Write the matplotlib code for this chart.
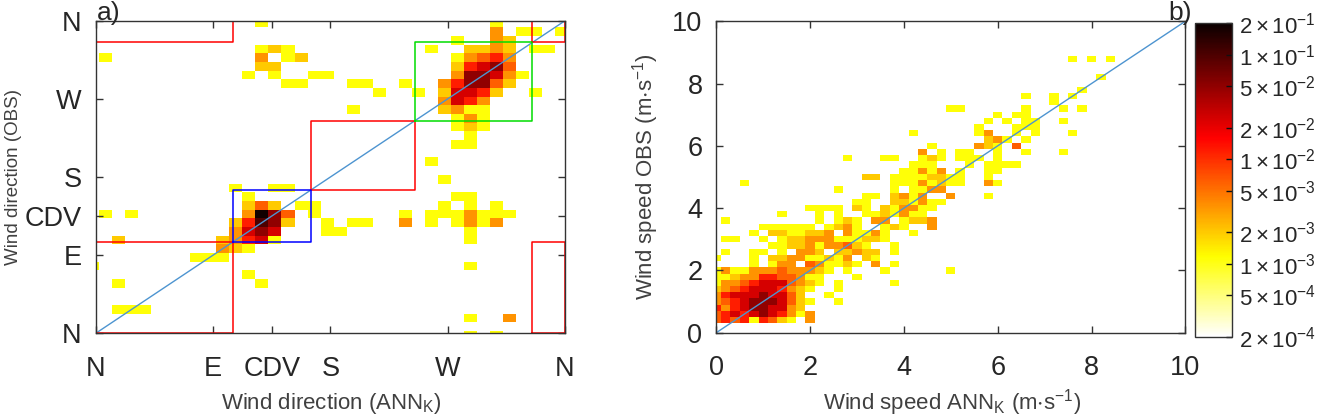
import re
import numpy as np
import matplotlib
matplotlib.use("Agg")
import matplotlib.pyplot as plt
from matplotlib.colors import LogNorm

plt.rcParams['font.family'] = ['Liberation Sans', 'DejaVu Sans']
plt.rcParams['mathtext.fontset'] = 'custom'
plt.rcParams['mathtext.rm'] = 'Liberation Sans'
plt.rcParams['mathtext.it'] = 'Liberation Sans:italic'
plt.rcParams['mathtext.bf'] = 'Liberation Sans:bold'

# ---------------- data ----------------
# frequency level codes read from the colours of the cells
level_value = {'Y': 1.1e-3, 'a': 2e-3, 'o': 3.5e-3, 'O': 6e-3, 'r': 1.2e-2,
               'R': 2.5e-2, 'd': 5e-2, 'k': 1e-1, 'K': 1.8e-1}

# panel a): 10 deg bins (edges at 2.5 + 10 n); key = OBS bin, tokens = "ANNbin level"
dir_bin_edges = [0.0] + list(np.arange(2.5, 360, 10.0)) + [360.0]
dir_rows = {
    35: "12Y 30Y",
    34: "30o 32Y 33Y 35Y",
    33: "27Y 30o 31a",
    32: "12Y 13a 14Y 25Y 28a 29a 30o 31a 33Y 34Y",
    31: "0Y 12o 14Y 15a 27Y 28o 29O 30r 31o",
    30: "12a 13a 27a 28r 29R 30d 31O",
    29: "11Y 13Y 16Y 17Y 27o 28d 29d 30R 31o 32Y",
    28: "14Y 15Y 19Y 20Y 23Y 26o 27r 28d 29d 30O 31a",
    27: "21Y 24Y 26a 27R 28R 29r 30a 33Y",
    26: "26o 27R 28r 29o",
    25: "19Y 26a 27o 28Y 29Y",
    24: "27Y 28o 29Y",
    23: "27Y 28a 29Y",
    22: "28Y",
    21: "27Y 28Y",
    19: "25Y",
    17: "26Y",
    16: "10Y 13Y 14Y",
    15: "11Y 27Y 28Y",
    14: "11a 12O 13a 15Y 16Y 26Y 28Y 30Y",
    13: "0Y 2Y 11o 12K 13d 14O 16Y 23Y 25Y 26Y 27Y 28o 29Y 30Y 31Y",
    12: "10a 11r 12k 13d 14a 17Y 19Y 20Y 23o 25Y 27Y 28o 29Y 30o",
    11: "10o 11R 12d 13R 17Y 18Y 28Y",
    10: "1a 9a 10o 11r 12R 13Y 28Y",
    9: "9o 10a 11Y",
    8: "7Y 8Y 9Y",
    7: "-1Y 28Y",
    6: "11Y",
    5: "1Y 12Y",
    2: "1Y 2Y 3Y",
    1: "28Y 31o",
    -1: "28Y 30Y",
}
dir_ticks = [0, 90, 135, 180, 270, 360]
dir_ticklabels = ['N', 'E', 'CDV', 'S', 'W', 'N']
# sector boxes: (x0, x1, y0, y1, colour)
sector_boxes = [
    (0, 105, 0, 105, 'red'), (0, 105, 335, 360, 'red'),
    (335, 360, 0, 105, 'red'), (335, 360, 335, 360, 'red'),
    (165, 245, 165, 245, 'red'),
    (105, 165, 105, 165, 'blue'),
    (245, 335, 245, 335, '#00dd00'),
]

# panel b): 0.2 m/s bins centred on multiples of 0.2; key = OBS bin, tokens = "ANNbin level"
spd_bin_edges = [0.0] + list(np.arange(0.1, 10.0, 0.2)) + [10.0]
speed_rows = {
    2: "0O 1r 2O 3r 4Y 5r 6O 7a 8Y 10o",
    3: "0O 1r 2R 3r 4R 5d 6R 7r 8o 9Y 10o",
    4: "0r 1o 2r 3R 4d 5d 6R 7R 8o 9a",
    5: "0o 1O 2r 3R 4d 5d 6d 7R 8O 9a 10Y 13Y",
    6: "0o 1r 2R 3R 4R 5d 6R 7R 8O 9a 12Y",
    7: "0a 1o 2O 3r 4R 5R 6R 7r 8o 9a 10Y 13Y",
    8: "0Y 1o 2o 3O 4r 5R 6R 7R 8O 9o 10a 11Y 13Y 19Y",
    9: "0Y 1Y 2a 3o 4o 5r 6r 7O 8O 9o 10Y 11Y 15Y",
    10: "0Y 1o 2Y 3Y 4o 5o 6o 7O 8o 9o 10o 11a 12Y 14Y 18Y 25Y",
    11: "4Y 6Y 7o 8o 10O 11o 12Y 13Y 14a 15Y 17o 19Y",
    12: "0Y 4Y 6a 7a 8o 9o 10Y 11Y 12a 13Y 14o 16a 17Y",
    13: "1Y 4Y 5Y 7Y 9o 10o 11a 13a 14a 15o 16a 17a 19Y",
    14: "6Y 7Y 8a 9a 10o 11Y 12o 13o 14O 15a 16Y 19Y",
    15: "1Y 2Y 5Y 7Y 8a 9a 10o 11o 12o 13Y 14Y 15Y 16a 17a 18Y",
    16: "4Y 6a 7a 8Y 9Y 10a 11a 12o 14o 15Y 16Y 17o 18Y 21Y",
    17: "5Y 6Y 7Y 8Y 9Y 10Y 12Y 13a 14o 15Y 18Y 19a 20Y 23o",
    18: "1Y 11Y 13Y 14a 15Y 17o 18o 20Y 21a 22a 23o",
    19: "7Y 11Y 13Y 16Y 17Y 18a 19Y 20o 21Y 22Y",
    20: "10Y 11Y 12Y 13Y 15a 16Y 18a 19Y 20o 21o 22Y 23Y",
    21: "15Y 16Y 19a 20a 21Y 22o 23Y 24Y",
    22: "16Y 17Y 19a 20o 21Y 22o 25o 29Y",
    23: "13Y 19Y 21Y 22Y 23o 24o",
    24: "3Y 19Y 20Y 21Y 22o 23Y 24a 25Y 26Y 29o 30Y",
    25: "16a 17a 19Y 20Y 21Y 22Y 23a 24a 25Y 26Y 29Y",
    26: "20Y 21Y 22o 23Y 24o 26Y 29Y 30Y",
    27: "21Y 22Y 23Y 27Y 29Y 30Y 31Y 32Y",
    28: "14Y 18Y 19Y 22Y 23a 24Y 26Y 27Y 28Y 30Y",
    29: "22o 24Y 26Y 27Y 30Y 33Y 37Y",
    30: "23Y 28o 29a 30Y 32O",
    31: "29a 30o 31Y 33Y",
    32: "21Y 28Y 29o 32Y 34Y 38Y",
    33: "28Y 32Y 33Y 34Y",
    34: "29Y 31Y 33Y 34Y 37Y",
    35: "30Y 32Y 33Y",
    36: "25Y 26Y 33Y 37Y 39Y",
    37: "36Y",
    38: "33Y 36Y 38Y",
    39: "39Y",
    41: "41Y",
    44: "38Y 40Y 42Y",
}
speed_ticks = [0, 2, 4, 6, 8, 10]

cbar_ticks = [2e-1, 1e-1, 5e-2, 2e-2, 1e-2, 5e-3, 2e-3, 1e-3, 5e-4, 2e-4]
cbar_ticklabels = [r'$\mathregular{2\times10^{-1}}$', r'$\mathregular{1\times10^{-1}}$',
                   r'$\mathregular{5\times10^{-2}}$', r'$\mathregular{2\times10^{-2}}$',
                   r'$\mathregular{1\times10^{-2}}$', r'$\mathregular{5\times10^{-3}}$',
                   r'$\mathregular{2\times10^{-3}}$', r'$\mathregular{1\times10^{-3}}$',
                   r'$\mathregular{5\times10^{-4}}$', r'$\mathregular{2\times10^{-4}}$']


def build_grid(rows, n, offset):
    g = np.zeros((n, n))
    for r, s in rows.items():
        for c, code in re.findall(r'(-?\d+)([A-Za-z])', s):
            g[r + offset, int(c) + offset] = level_value[code]
    return np.ma.masked_equal(g, 0)


dir_grid = build_grid(dir_rows, len(dir_bin_edges) - 1, 1)
spd_grid = build_grid(speed_rows, len(spd_bin_edges) - 1, 0)

# ---------------- plot ----------------
cmap = plt.get_cmap('hot_r').copy()
cmap.set_bad('white')
norm = LogNorm(vmin=2e-4, vmax=2e-1)
txt = '#262626'
lab = '#404040'
diag_c = '#4d94d0'

fig = plt.figure(figsize=(13.26, 4.17), dpi=100)
ax1 = fig.add_axes([0.0722, 0.2007, 0.3539, 0.7496])
ax2 = fig.add_axes([0.5402, 0.2022, 0.3537, 0.7468])
cax = fig.add_axes([0.9012, 0.1926, 0.0279, 0.7516])

ax1.pcolormesh(dir_bin_edges, dir_bin_edges, dir_grid, cmap=cmap, norm=norm)
ax1.plot([0, 360], [0, 360], color=diag_c, lw=1.0)
for x0, x1, y0, y1, c in sector_boxes:
    ax1.plot([x0, x1, x1, x0, x0], [y0, y0, y1, y1, y0], color=c, lw=1.1)
ax1.set_xlim(0, 360)
ax1.set_ylim(0, 360)
ax1.set_xticks(dir_ticks)
ax1.set_xticklabels(dir_ticklabels)
ax1.set_yticks(dir_ticks)
ax1.set_yticklabels(dir_ticklabels)
ax1.set_xlabel(r'Wind direction (ANN$_\mathregular{K}$)', fontsize=16, color=lab)
ax1.set_ylabel('Wind direction (OBS)', fontsize=13.5, color=lab)
ax1.xaxis.set_label_coords(0.503, -0.185)
ax1.yaxis.set_label_coords(-0.158, 0.5)

mesh = ax2.pcolormesh(spd_bin_edges, spd_bin_edges, spd_grid, cmap=cmap, norm=norm)
ax2.plot([0, 10], [0, 10], color=diag_c, lw=1.0)
ax2.set_xlim(0, 10)
ax2.set_ylim(0, 10)
ax2.set_xticks(speed_ticks)
ax2.set_yticks(speed_ticks)
ax2.set_xlabel(r'Wind speed ANN$_\mathregular{K}$ (m$\mathregular{\cdot}$s$^\mathregular{-1}$)',
               fontsize=16, color=lab)
ax2.set_ylabel(r'Wind speed OBS (m$\mathregular{\cdot}$s$^\mathregular{-1}$)',
               fontsize=16, color=lab)
ax2.xaxis.set_label_coords(0.503, -0.176)
ax2.yaxis.set_label_coords(-0.118, 0.5)

for ax in (ax1, ax2):
    ax.tick_params(direction='in', top=True, right=True, length=5, width=1.0,
                   labelsize=19.5, color='#333333', labelcolor=txt)
    ax.tick_params(axis='x', pad=16)
    ax.tick_params(axis='y', pad=10)
    for sp in ax.spines.values():
        sp.set_color('#333333')
        sp.set_linewidth(1.0)

cb = fig.colorbar(mesh, cax=cax, ticks=cbar_ticks)
cb.minorticks_off()
cb.set_ticks(cbar_ticks)
cb.set_ticklabels(cbar_ticklabels)
cb.ax.tick_params(direction='in', length=4, width=1.0, labelsize=16, pad=5,
                  color='#111111', labelcolor=txt)
cb.outline.set_edgecolor('#333333')
cb.outline.set_linewidth(1.0)

fig.text(97 / 1326, 1 - 20 / 417, 'a)', fontsize=19, color=txt, va='baseline', ha='left')
fig.text(1168 / 1326, 1 - 20 / 417, 'b)', fontsize=19, color=txt, va='baseline', ha='left')

fig.savefig('out.png', dpi=100, facecolor='white')
